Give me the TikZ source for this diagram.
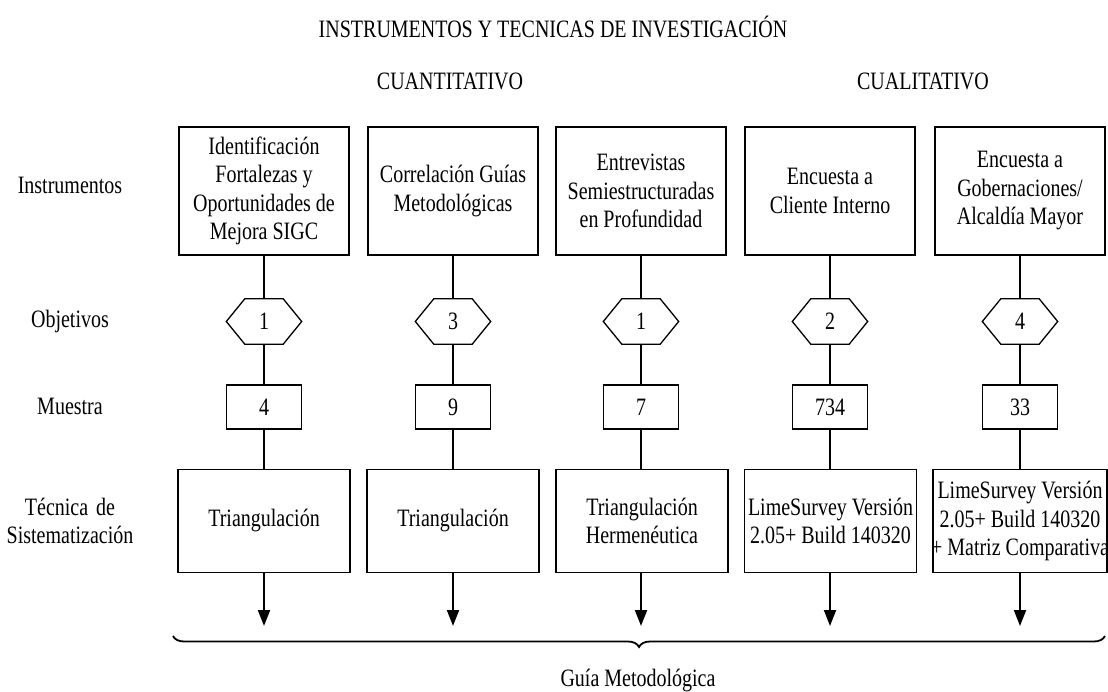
\documentclass[tikz,border=0pt]{standalone}
\usepackage{fontspec}
\setmainfont{Liberation Serif}[FakeStretch=0.8]
\usetikzlibrary{arrows.meta,decorations.pathreplacing,calc}
\begin{document}
\begin{tikzpicture}[x=1pt,y=-1pt,
  every node/.style={font=\fontsize{25}{28.5}\selectfont, inner sep=0pt, text=black},
  topbox/.style={draw, line width=1.3pt, minimum width=170pt, minimum height=128pt, align=center},
  botbox/.style={draw, line width=1.3pt, minimum width=172pt, minimum height=103pt, align=center},
  numbox/.style={draw, line width=1.3pt, minimum width=75pt, minimum height=44pt},
  hexcore/.style={minimum width=38pt, minimum height=45pt},
  hexline/.style={line width=1.3pt, line join=miter},
  conn/.style={line width=2pt},
  arr/.style={line width=2pt, -{Triangle[length=16pt,width=12pt]}},
  lbl/.style={align=center}
]
\useasboundingbox (0,0) rectangle (1108,692);

% headings
\node (title) at (553,27) {INSTRUMENTOS Y TECNICAS DE INVESTIGACIÓN};
\node (cuan) at (450,81) {CUANTITATIVO};
\node (cual) at (923,81) {CUALITATIVO};

% row labels
\node[lbl] (lins) at (70,185) {Instrumentos};
\node[lbl] (lobj) at (70,321) {Objetivos};
\node[lbl] (lmue) at (70,406) {Muestra};
\node[lbl] (ltec) at (70,521) {Técnica\hspace{8pt}de\\Sistematización};

% instruments
\node[topbox] (i1) at (264,191) {Identificación\\Fortalezas y\\Oportunidades de\\Mejora SIGC};
\node[topbox] (i2) at (453,191) {Correlación Guías\\Metodológicas};
\node[topbox] (i3) at (641,191) {Entrevistas\\Semiestructuradas\\en Profundidad};
\node[topbox] (i4) at (830,191) {Encuesta a\\Cliente Interno};
\node[topbox] (i5) at (1020,191) {Encuesta a\\Gobernaciones/\\Alcaldía Mayor};

% objectives (hexagons)
\node[hexcore] (o1) at (264,321.5) {1};
\node[hexcore] (o2) at (453,321.5) {3};
\node[hexcore] (o3) at (641,321.5) {1};
\node[hexcore] (o4) at (830,321.5) {2};
\node[hexcore] (o5) at (1020,321.5) {4};
\foreach \k in {1,...,5}{
  \draw[hexline] ($(o\k.west)+(-18.5,0)$) -- (o\k.north west) -- (o\k.north east)
    -- ($(o\k.east)+(18.5,0)$) -- (o\k.south east) -- (o\k.south west) -- cycle;
}

% samples
\node[numbox] (m1) at (264,407) {4};
\node[numbox] (m2) at (453,407) {9};
\node[numbox] (m3) at (641,407) {7};
\node[numbox] (m4) at (830,407) {734};
\node[numbox] (m5) at (1020,407) {33};

% techniques
\node[botbox] (t1) at (264,521) {Triangulación};
\node[botbox] (t2) at (453,521) {Triangulación};
\node[botbox] (t3) at (642,521) {Triangulación\\Hermenéutica};
\node[botbox] (t4) at (830.5,521) {LimeSurvey Versión\\2.05+ Build 140320};
\node[botbox, minimum width=174pt] (t5) at (1020,521) {LimeSurvey Versión\\2.05+ Build 140320\\\makebox[168pt][c]{+ Matriz Comparativa}};

% arrow ends
\coordinate (e1) at (264,626);
\coordinate (e2) at (453,626);
\coordinate (e3) at (641,626);
\coordinate (e4) at (830,626);
\coordinate (e5) at (1020,626);

% connectors
\foreach \k in {1,...,5}{
  \draw[conn] (i\k.south) -- (o\k.north);
  \draw[conn] (o\k.south) -- (m\k.north);
  \draw[conn] (m\k.south) -- (m\k.south |- t\k.north);
  \draw[arr] (e\k |- t\k.south) -- (e\k);
}

% brace
\coordinate (bl) at (173,636);
\coordinate (br) at (1105,636);
\draw[line width=1.8pt, decorate, decoration={brace, mirror, amplitude=11pt}] (bl) -- (br);
\node (guia) at (638,681) {Guía Metodológica};
\end{tikzpicture}
\end{document}
